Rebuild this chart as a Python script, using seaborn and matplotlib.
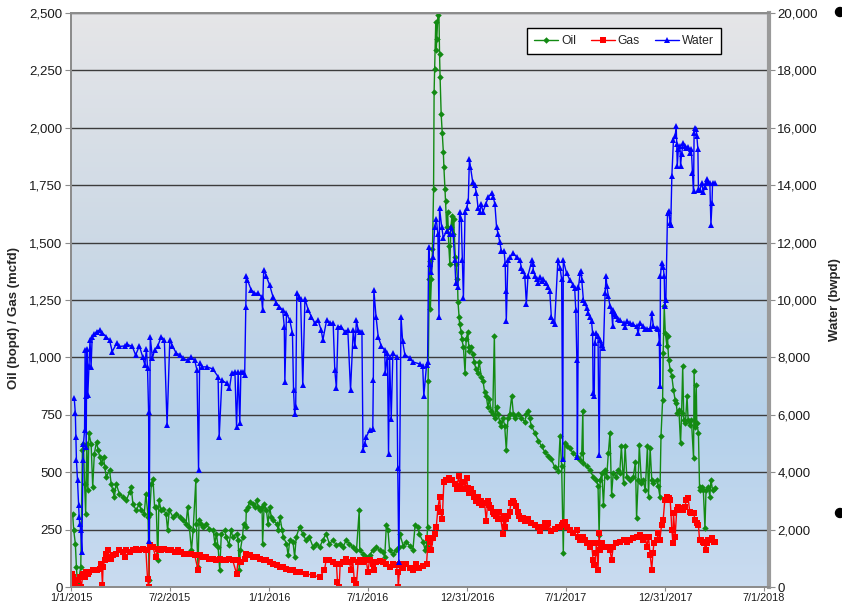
import numpy as np
import pandas as pd
import seaborn as sns
import matplotlib.pyplot as plt
from matplotlib.ticker import FuncFormatter, MultipleLocator
from matplotlib.patches import Ellipse
from matplotlib.lines import Line2D

start = pd.Timestamp("2015-01-01")

# days since 1/1/2015 and rates
oil_days = [3, 5, 8, 10, 12, 15, 18, 21, 23, 25, 27, 29, 31, 33, 37, 40, 43, 47, 50, 53, 56, 60, 62, 65, 71, 74, 77, 80, 83, 89,
            96, 102, 108, 111, 114, 120, 126, 129, 135, 138, 142, 144, 145, 148, 151, 154, 157, 160, 162, 166, 169, 175, 178, 181,
            188, 194, 200, 206, 212, 215, 218, 222, 225, 230, 231, 234, 236, 240, 243, 249, 255, 262, 265, 268, 271, 274, 277,
            283, 286, 291, 295, 298, 305, 308, 310, 312, 316, 318, 322, 323, 326, 329, 336, 339, 342, 345, 349, 352, 353, 356,
            360, 363, 366, 369, 372, 379, 382, 385, 389, 391, 397, 400, 403, 409, 412, 415, 421, 427, 433, 439, 446, 452, 458,
            464, 470, 476, 483, 489, 495, 501, 507, 513, 519, 526, 531, 532, 538, 544, 550, 556, 562, 569, 575, 578, 581, 584,
            587, 593, 599, 604, 606, 612, 618, 624, 630, 634, 639, 642, 649, 652, 655, 657, 658, 660, 661, 662, 664, 666, 668,
            669, 670, 672, 673, 674, 676, 677, 679, 680, 682, 684, 686, 687, 689, 690, 692, 694, 696, 698, 700, 702, 704, 705,
            708, 710, 712, 713, 715, 716, 719, 720, 723, 726, 728, 731, 733, 734, 737, 740, 743, 746, 749, 752, 756, 759, 762,
            765, 768, 771, 774, 777, 780, 782, 784, 787, 790, 793, 796, 799, 802, 805, 808, 812, 815, 818, 824, 830, 836, 839,
            842, 845, 848, 855, 861, 867, 873, 879, 885, 891, 898, 901, 904, 907, 910, 913, 919, 925, 932, 938, 941, 943, 944,
            950, 956, 962, 968, 971, 973, 975, 978, 981, 984, 987, 990, 993, 996, 999, 1005, 1008, 1011, 1014, 1018, 1021,
            1024, 1030, 1036, 1040, 1042, 1045, 1047, 1051, 1054, 1058, 1062, 1064, 1067, 1070, 1073, 1079, 1082, 1085, 1087,
            1090, 1091, 1093, 1095, 1098, 1099, 1101, 1104, 1107, 1110, 1113, 1115, 1117, 1120, 1123, 1125, 1127, 1129, 1132,
            1135, 1137, 1140, 1143, 1147, 1148, 1150, 1152, 1153, 1156, 1158, 1159, 1162, 1165, 1168, 1170, 1174, 1177, 1179,
            1182, 1187]
oil_bopd = [320, 247, 189, 87, 15, 44, 87, 596, 625, 450, 320, 625, 421, 669, 625, 436, 581, 632, 596, 567, 538, 567, 523, 480,
            509, 450, 421, 392, 450, 407, 392, 378, 414, 436, 363, 334, 363, 334, 320, 407, 305, 29, 320, 450, 472, 349, 349,
            116, 378, 334, 340, 320, 247, 334, 305, 320, 305, 291, 276, 349, 262, 160, 247, 465, 276, 87, 291, 276, 262, 276,
            254, 247, 189, 233, 174, 73, 233, 247, 218, 182, 247, 218, 233, 203, 73, 160, 218, 276, 262, 334, 349, 370, 363,
            349, 378, 349, 334, 349, 189, 363, 334, 276, 349, 305, 291, 276, 247, 305, 247, 218, 189, 138, 203, 196, 131, 218,
            262, 233, 203, 218, 174, 189, 174, 203, 233, 189, 203, 182, 189, 174, 203, 189, 174, 160, 334, 160, 145, 131, 138,
            160, 174, 160, 152, 131, 269, 247, 160, 145, 160, 174, 229, 180, 196, 180, 163, 270, 261, 229, 196, 163, 180, 261,
            899, 1340, 1422, 1209, 1340, 1471, 1732, 2157, 2255, 2459, 2337, 2386, 2492, 2650, 2320, 2222, 2059, 1977, 1895,
            1830, 1732, 1683, 1569, 1634, 1487, 1405, 1569, 1618, 1536, 1601, 1438, 1405, 1340, 1242, 1176, 1144, 1111, 1078,
            1046, 931, 1078, 1111, 1046, 1029, 1046, 1013, 980, 948, 931, 980, 915, 899, 850, 833, 784, 817, 768, 752, 1095,
            735, 784, 752, 719, 703, 735, 703, 596, 735, 752, 833, 752, 735, 752, 735, 719, 752, 768, 735, 703, 670, 637, 613,
            588, 572, 556, 523, 507, 656, 525, 147, 627, 612, 605, 583, 568, 554, 583, 765, 539, 525, 510, 481, 467, 438, 227,
            467, 496, 358, 510, 481, 583, 670, 401, 496, 481, 510, 496, 612, 452, 612, 481, 467, 481, 546, 299, 467, 619, 452,
            467, 423, 612, 394, 605, 467, 452, 467, 438, 394, 656, 815, 1019, 1222, 1106, 1048, 1092, 990, 946, 917, 859, 815,
            801, 757, 772, 626, 757, 961, 728, 714, 830, 728, 706, 728, 561, 939, 699, 881, 714, 670, 437, 423, 437, 423, 256,
            423, 437, 394, 467, 423, 430]

gas_days = [2, 4, 6, 8, 10, 13, 16, 19, 22, 25, 28, 31, 34, 41, 47, 53, 56, 58, 59, 62, 65, 68, 71, 74, 77, 83, 89, 96, 99, 102,
            108, 114, 120, 126, 132, 138, 141, 143, 145, 151, 156, 160, 166, 172, 178, 184, 191, 197, 203, 209, 215, 222, 228,
            234, 237, 243, 249, 255, 262, 268, 274, 280, 286, 292, 298, 305, 308, 314, 320, 323, 329, 336, 342, 349, 355, 360,
            366, 372, 379, 385, 391, 397, 403, 409, 415, 421, 433, 446, 458, 467, 470, 476, 483, 489, 491, 494, 496, 501, 507,
            513, 516, 519, 522, 526, 529, 532, 538, 544, 547, 550, 556, 559, 562, 569, 575, 581, 587, 593, 599, 602, 603, 606,
            612, 618, 624, 630, 636, 642, 649, 655, 658, 661, 664, 667, 670, 673, 676, 679, 681, 684, 687, 690, 696, 702, 708,
            711, 714, 717, 720, 723, 726, 729, 731, 734, 737, 740, 743, 746, 749, 752, 755, 758, 762, 765, 768, 771, 774, 777,
            780, 783, 786, 789, 792, 796, 797, 800, 802, 805, 808, 811, 814, 817, 820, 823, 826, 830, 833, 836, 842, 848, 855,
            861, 864, 867, 873, 876, 879, 885, 892, 898, 901, 904, 907, 910, 913, 919, 925, 932, 935, 938, 941, 944, 947, 950,
            956, 959, 962, 964, 967, 968, 971, 973, 975, 978, 981, 987, 993, 996, 999, 1005, 1011, 1018, 1024, 1030, 1036,
            1042, 1048, 1054, 1058, 1061, 1064, 1067, 1070, 1072, 1074, 1079, 1082, 1085, 1088, 1091, 1094, 1098, 1101, 1104,
            1107, 1109, 1110, 1113, 1116, 1119, 1122, 1125, 1128, 1131, 1134, 1137, 1140, 1143, 1147, 1150, 1153, 1156, 1158,
            1160, 1164, 1166, 1170, 1171, 1174, 1177, 1181, 1184, 1187]
gas_mcfd = [58, 44, 29, 15, 0, 29, 44, 0, 58, 44, 65, 58, 65, 73, 73, 80, 102, 7, 87, 116, 145, 160, 131, 124, 138, 145, 160,
            153, 131, 160, 153, 160, 167, 160, 167, 160, 36, 0, 182, 174, 131, 167, 160, 167, 160, 160, 153, 160, 153, 145,
            145, 145, 138, 73, 138, 131, 131, 124, 124, 116, 124, 116, 116, 124, 116, 58, 116, 109, 124, 145, 138, 131, 131,
            124, 116, 116, 109, 102, 94, 87, 87, 80, 73, 73, 65, 65, 58, 51, 44, 73, 116, 116, 109, 102, 22, 0, 102, 109, 124,
            109, 73, 116, 29, 15, 109, 116, 109, 116, 65, 116, 102, 73, 109, 114, 109, 98, 87, 102, 94, 65, 0, 98, 82, 98, 82,
            74, 98, 82, 90, 98, 212, 196, 163, 212, 229, 261, 343, 392, 327, 294, 458, 466, 474, 466, 449, 425, 482, 441, 425,
            458, 425, 474, 433, 408, 425, 408, 392, 376, 392, 368, 376, 359, 368, 286, 376, 359, 343, 327, 319, 310, 294, 327,
            294, 229, 310, 261, 294, 310, 327, 368, 376, 368, 351, 327, 310, 294, 302, 286, 294, 278, 270, 261, 245, 261, 278,
            261, 278, 245, 253, 261, 263, 270, 278, 285, 263, 249, 234, 249, 219, 205, 212, 219, 205, 190, 176, 190, 118, 96,
            147, 190, 74, 234, 161, 190, 176, 176, 161, 118, 176, 190, 197, 205, 197, 205, 212, 219, 226, 205, 219, 176, 219,
            140, 74, 147, 190, 205, 234, 205, 270, 292, 379, 394, 387, 379, 249, 190, 321, 219, 336, 350, 336, 343, 336, 350,
            379, 387, 328, 321, 321, 292, 278, 270, 205, 205, 197, 190, 161, 190, 205, 205, 212, 197, 197]

water_days = [6, 8, 9, 10, 12, 14, 15, 16, 18, 20, 22, 23, 25, 26, 27, 28, 29, 31, 33, 35, 37, 39, 43, 47, 53, 58, 65, 71, 76,
              84, 89, 99, 104, 113, 119, 126, 132, 136, 139, 141, 143, 144, 146, 150, 154, 160, 166, 172, 177, 182, 187, 194,
              200, 206, 215, 222, 228, 232, 235, 237, 242, 250, 261, 271, 273, 278, 287, 292, 296, 302, 305, 308, 311, 313, 316,
              320, 322, 323, 325, 332, 338, 344, 351, 353, 355, 360, 366, 372, 378, 384, 390, 393, 394, 397, 403, 408, 410, 412,
              414, 416, 420, 423, 427, 431, 437, 443, 449, 455, 461, 464, 471, 477, 483, 486, 489, 492, 498, 504, 510, 515, 520,
              523, 526, 529, 532, 536, 538, 541, 544, 550, 556, 557, 558, 562, 566, 572, 578, 579, 583, 585, 587, 590, 593, 600,
              602, 604, 608, 611, 615, 624, 630, 643, 648, 650, 655, 657, 659, 661, 664, 667, 670, 673, 676, 678, 679, 683, 686,
              692, 698, 701, 704, 707, 709, 713, 716, 719, 721, 723, 726, 729, 732, 734, 736, 740, 744, 747, 750, 753, 756, 759,
              764, 769, 775, 778, 781, 784, 787, 790, 793, 798, 800, 801, 802, 805, 809, 815, 821, 827, 830, 833, 836, 839, 842,
              849, 851, 852, 855, 858, 861, 864, 867, 870, 876, 879, 882, 885, 888, 891, 897, 901, 904, 906, 907, 913, 919, 925,
              928, 930, 932, 933, 935, 938, 940, 941, 944, 947, 950, 953, 956, 959, 961, 962, 964, 965, 968, 971, 973, 975, 978,
              981, 984, 986, 987, 990, 993, 996, 998, 999, 1002, 1005, 1008, 1011, 1018, 1021, 1024, 1030, 1036, 1042, 1045,
              1048, 1054, 1058, 1061, 1067, 1070, 1073, 1079, 1082, 1084, 1085, 1086, 1088, 1091, 1093, 1094, 1096, 1099, 1101,
              1104, 1105, 1107, 1110, 1113, 1115, 1116, 1117, 1119, 1122, 1123, 1125, 1128, 1131, 1134, 1137, 1140, 1143, 1145,
              1147, 1148, 1150, 1152, 1153, 1155, 1156, 1159, 1162, 1165, 1168, 1170, 1171, 1174, 1177, 1179, 1181, 1182, 1187]
water_bwpd = [6570, 6050, 5230, 4420, 3720, 2850, 2440, 2210, 1980, 1220, 4420, 5000, 5460, 8260, 6640, 4880, 8300, 6700, 7700,
              8600, 7670, 8700, 8800, 8900, 8950, 8850, 8720, 8600, 8200, 8490, 8380, 8400, 8450, 8380, 8080, 8400, 8020, 7740,
              8300, 7620, 6100, 1620, 8720, 7970, 8260, 8400, 8720, 8600, 5640, 8600, 8400, 8140, 8100, 7970, 7900, 8000, 7900,
              7560, 4070, 7790, 7670, 7670, 7600, 7330, 5230, 7200, 7100, 6920, 7440, 7500, 5580, 7500, 5700, 7500, 7500, 7400,
              9770, 10820, 10700, 10350, 10240, 10230, 10120, 9650, 11050, 10820, 10520, 10120, 9910, 9770, 9650, 9070, 7150,
              9540, 9300, 8840, 6860, 6040, 6280, 10230, 10100, 10050, 7030, 10050, 9650, 9420, 9190, 9300, 8950, 8600, 9300,
              9190, 9190, 7560, 6920, 9070, 9070, 8900, 8950, 6860, 8950, 8380, 9300, 8950, 8900, 8900, 4770, 5000, 5230, 5460,
              5520, 7200, 10350, 9420, 8720, 8380, 8260, 7440, 8140, 4650, 8020, 5870, 8140, 8020, 4130, 880, 9410, 8560, 8100,
              7980, 7840, 7770, 7700, 6660, 7720, 7840, 11830, 11240, 10980, 11500, 12550, 12810, 12290, 9410, 13200, 12550,
              12160, 12420, 12290, 12550, 12290, 11380, 10590, 10460, 13070, 12810, 11380, 10060, 13070, 13200, 13460, 14900,
              14640, 14120, 13990, 13730, 13200, 13070, 13330, 13070, 13330, 13590, 13720, 13590, 13330, 12550, 12290, 12020,
              11700, 11700, 11240, 10330, 9280, 11380, 11500, 11630, 11500, 11380, 11110, 11000, 10850, 9870, 10850, 11380,
              11240, 11000, 10850, 10720, 10600, 10790, 10660, 10720, 10600, 10460, 10330, 9410, 9280, 9150, 11380, 11110,
              10720, 4450, 11380, 10940, 10700, 10530, 10410, 9660, 7920, 4540, 10450, 10940, 11000, 10700, 10010, 9900, 9720,
              9540, 9400, 9260, 8850, 6750, 6670, 8500, 8850, 8740, 4600, 8620, 8440, 8320, 10250, 10820, 10500, 10130, 9780,
              9600, 9080, 9660, 9500, 9430, 9340, 9300, 9200, 9060, 9260, 9200, 9150, 9080, 8850, 9200, 9080, 9000, 9000, 9000,
              9540, 9080, 9030, 9000, 8500, 6990, 10820, 11290, 11150, 10820, 9780, 10000, 13030, 13110, 12690, 12610, 14310,
              15590, 15700, 16060, 15450, 14660, 15250, 15360, 14660, 15100, 15480, 15360, 15280, 15320, 15130, 15250, 14430,
              13790, 15820, 16000, 15950, 15700, 15250, 13850, 13850, 14080, 13770, 13950, 14080, 14200, 14080, 14080, 12620,
              13380, 14080, 14080]

tick_dates = ["2015-01-01", "2015-07-02", "2016-01-01", "2016-07-01", "2016-12-31", "2017-07-01", "2017-12-31", "2018-07-01"]
tick_labels = ["1/1/2015", "7/2/2015", "1/1/2016", "7/1/2016", "12/31/2016", "7/1/2017", "12/31/2017", "7/1/2018"]
series_names = ["Oil", "Gas", "Water"]

oil = pd.DataFrame({"date": start + pd.to_timedelta(oil_days, unit="D"), "rate": oil_bopd})
gas = pd.DataFrame({"date": start + pd.to_timedelta(gas_days, unit="D"), "rate": gas_mcfd})
water = pd.DataFrame({"date": start + pd.to_timedelta(water_days, unit="D"), "rate": water_bwpd})

sns.set_style("ticks")
plt.rcParams["font.family"] = ["Liberation Sans", "DejaVu Sans"]

fig = plt.figure(figsize=(8.42, 6.05), dpi=100)
pos = [71 / 842, 18 / 605, 698 / 842, 574 / 605]

# gradient background, grey on top -> blue lower down
bg = fig.add_axes(pos, zorder=0)
stops = [0.0, 0.28, 0.6, 1.0]
cols = np.array([[0.79, 0.86, 0.94], [0.71, 0.82, 0.92], [0.80, 0.85, 0.90], [0.90, 0.90, 0.91]])
yy = np.linspace(0, 1, 256)
grad = np.stack([np.interp(yy, stops, cols[:, i]) for i in range(3)], axis=1)[::-1].reshape(256, 1, 3)
bg.imshow(grad, aspect="auto", extent=[0, 1, 0, 1])
bg.axis("off")

ax = fig.add_axes(pos, zorder=1)
ax.patch.set_visible(False)

green, red, blue = "#138a13", "#ff0000", "#0000ff"
sns.lineplot(data=oil, x="date", y="rate", ax=ax, color=green, marker="D", markersize=3.3, markeredgewidth=0,
             linewidth=1, estimator=None, sort=False)
sns.lineplot(data=gas, x="date", y="rate", ax=ax, color=red, marker="s", markersize=4.3, markeredgewidth=0,
             linewidth=1, estimator=None, sort=False)

ax2 = ax.twinx()
sns.lineplot(data=water, x="date", y="rate", ax=ax2, color=blue, marker="^", markersize=4.8, markeredgewidth=0,
             linewidth=1, estimator=None, sort=False)

ax.set_xlim(pd.Timestamp("2015-01-01"), pd.Timestamp("2018-07-10"))
ax.set_ylim(0, 2500)
ax2.set_ylim(0, 20000)
ax.yaxis.set_major_locator(MultipleLocator(250))
ax2.yaxis.set_major_locator(MultipleLocator(2000))
fmt = FuncFormatter(lambda v, p: f"{v:,.0f}")
ax.yaxis.set_major_formatter(fmt)
ax2.yaxis.set_major_formatter(fmt)
ax.set_xticks(pd.to_datetime(tick_dates))
ax.set_xticklabels(tick_labels)

ax.yaxis.grid(True, color="#3c3c3c", linewidth=1)
ax.set_xlabel("")
ax.set_ylabel("Oil (bopd) / Gas (mcfd)", fontsize=9.5, fontweight="bold")
ax2.set_ylabel("Water (bwpd)", fontsize=9.5, fontweight="bold")
ax.yaxis.set_label_coords(-0.073, 0.468)
ax2.yaxis.set_label_coords(1.086, 0.5)

for a in (ax, ax2):
    for s in a.spines.values():
        s.set_color("#8c8c8c")
        s.set_linewidth(1.3)
    a.tick_params(axis="both", direction="out", length=4, color="#8c8c8c", labelsize=9.5, labelcolor="#1a1a1a", pad=2)
ax2.spines["right"].set_linewidth(3)
ax2.spines["right"].set_color("#9a9a9a")
ax.tick_params(axis="x", labelsize=7.8, pad=1.5, length=3)

handles = [Line2D([0], [0], color=green, marker="D", markersize=3.3, markeredgewidth=0, lw=1),
           Line2D([0], [0], color=red, marker="s", markersize=4.3, markeredgewidth=0, lw=1),
           Line2D([0], [0], color=blue, marker="^", markersize=4.8, markeredgewidth=0, lw=1)]
leg = ax2.legend(handles, series_names, ncol=3, loc="upper left", bbox_to_anchor=(0.653, 0.974), borderaxespad=0,
                 frameon=True, fancybox=False, edgecolor="black", framealpha=1, fontsize=8.7, handlelength=2.0,
                 columnspacing=1.2, handletextpad=0.25, borderpad=0.6)
leg.get_frame().set_linewidth(1.0)

# slide bullets peeking in at the right edge
for yp in (12, 513):
    fig.add_artist(Ellipse((840 / 842, 1 - yp / 605), 9 / 842, 9 / 605, transform=fig.transFigure, color="black"))

fig.savefig("out.png", dpi=100)
